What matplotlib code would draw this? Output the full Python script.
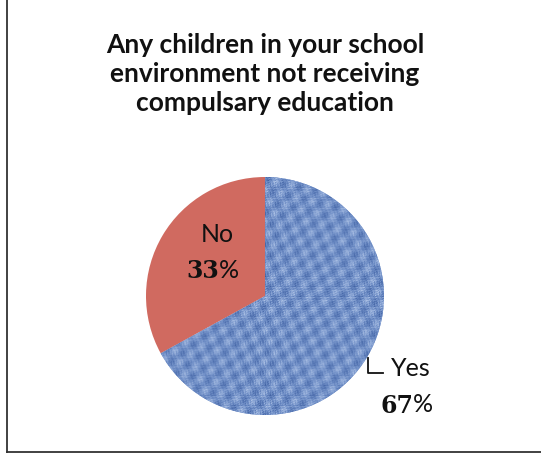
import numpy as np
import matplotlib
matplotlib.use("Agg")
import matplotlib.pyplot as plt
from matplotlib.colors import LinearSegmentedColormap
from matplotlib.lines import Line2D

# data
labels = ['Yes', 'No']
values = [67, 33]
colors = ['#7e9bd0', '#d06a60']
title = 'Any children in your school\nenvironment not receiving\ncompulsary education'

W, H = 541, 453
fig = plt.figure(figsize=(W / 100, H / 100), dpi=100)
fig.patch.set_facecolor('white')

# pie axes: centre (265, 296) px from top, radius 119 px
cx, cy, r = 265, 296, 119
ax = fig.add_axes([(cx - r) / W, (H - cy - r) / H, 2 * r / W, 2 * r / H])
wedges, _ = ax.pie(values, colors=colors, startangle=90, counterclock=False,
                   radius=1, wedgeprops=dict(linewidth=0))
ax.set_xlim(-1, 1)
ax.set_ylim(-1, 1)
ax.set_aspect('equal')
ax.axis('off')

# woven texture for the "Yes" slice (decoration only)
n = 240
yy, xx = np.mgrid[0:n, 0:n]
weave = (np.sin(2 * np.pi * xx / 5.0) ** 2 * ((yy // 5) % 2)
         + np.sin(2 * np.pi * yy / 5.0) ** 2 * (1 - (yy // 5) % 2))
mottle = (np.sin(xx * 0.37 + yy * 0.11) * np.sin(yy * 0.29 - xx * 0.07)
          + 0.6 * np.sin(xx * 1.3 + yy * 0.9) * np.cos(yy * 1.7 - xx * 0.4)
          + 0.5 * np.sin(xx * 2.3 - yy * 0.6) * np.sin(yy * 2.9 + xx * 0.5))
tex = 0.45 * weave + 0.45 * mottle
tex = (tex - tex.min()) / (tex.max() - tex.min())
cmap = LinearSegmentedColormap.from_list('fabric', ['#34569a', '#7190c8', '#c2d3ef'])
im = ax.imshow(tex, cmap=cmap, extent=[-1, 1, -1, 1], interpolation='bilinear', zorder=2)
im.set_clip_path(wedges[0])

# title
fig.text(cx / W, 1 - 74 / H, title, ha='center', va='center', fontsize=19,
         fontweight='bold', family='Lato', linespacing=1.27, color='#111111')

def px(x, y):
    return x / W, 1 - y / H

# "No" label
fig.text(*px(217, 234), labels[1], ha='center', va='center', fontsize=18,
         family='Lato', color='#111111')
fig.text(*px(219, 271), f'{values[1]}', ha='right', va='center', fontsize=17,
         family='DejaVu Serif', fontweight='bold', color='#111111')
fig.text(*px(219, 270), '%', ha='left', va='center', fontsize=18,
         family='Lato', color='#111111')

# "Yes" label with leader
fig.add_artist(Line2D([368 / W, 368 / W, 383 / W], [1 - 358 / H, 1 - 373 / H, 1 - 373 / H],
                      color='#111111', lw=1.3))
fig.text(*px(411, 368), labels[0], ha='center', va='center', fontsize=18,
         family='Lato', color='#111111')
fig.text(*px(413, 406), f'{values[0]}', ha='right', va='center', fontsize=17,
         family='DejaVu Serif', fontweight='bold', color='#111111')
fig.text(*px(413, 405), '%', ha='left', va='center', fontsize=18,
         family='Lato', color='#111111')

# frame lines: left and bottom only
fig.add_artist(Line2D([6.5 / W, 6.5 / W], [0, 1], color='#333333', lw=1.3))
fig.add_artist(Line2D([6.5 / W, 1], [1.5 / H, 1.5 / H], color='#333333', lw=1.3))

fig.savefig('out.png', dpi=100)
